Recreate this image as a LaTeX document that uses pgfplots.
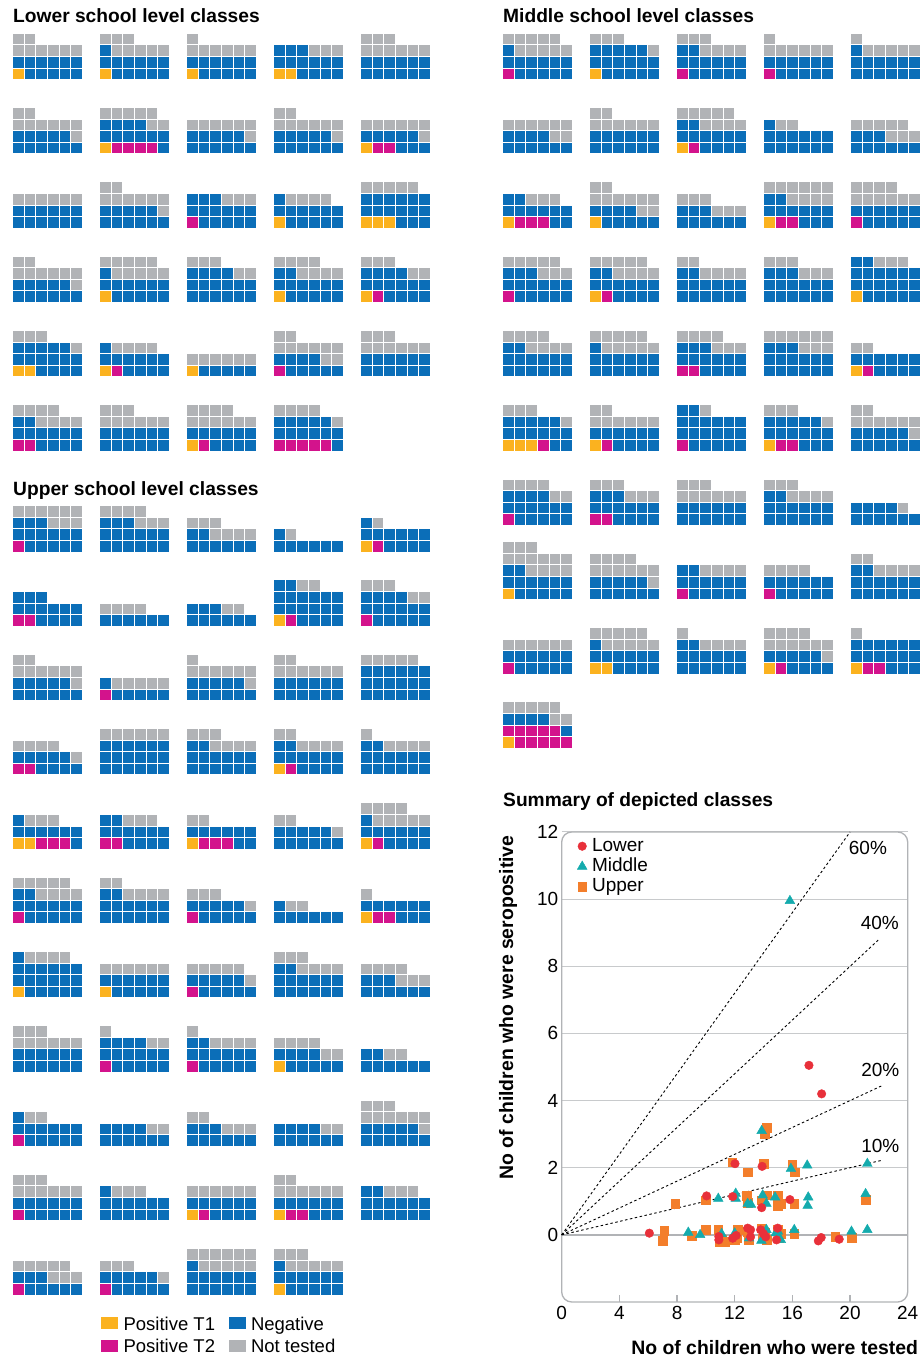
\documentclass[border=0pt]{standalone}
\usepackage{fontspec}
\setmainfont{Liberation Sans}
\usepackage{pgfplots}
\pgfplotsset{compat=1.18}
\definecolor{cTone}{HTML}{FBB21F}
\definecolor{cTtwo}{HTML}{D3138C}
\definecolor{cNeg}{HTML}{0B6EB8}
\definecolor{cNT}{HTML}{B1B3B6}
\definecolor{cLow}{HTML}{E8303A}
\definecolor{cMid}{HTML}{14ABAD}
\definecolor{cUp}{HTML}{F37E2B}
\newcount\kk
\newcount\jj
\def\LA{}\def\LB{}\def\LC{}\def\LD{}
\newcommand\addsq[3]{%
  \pgfmathtruncatemacro\wfc{mod(\the\kk,6)}%
  \pgfmathtruncatemacro\wfr{floor(\the\kk/6)}%
  \pgfmathsetmacro\wfx{#2+4.8+11.6*\wfc}%
  \pgfmathsetmacro\wfy{#3-4.8-11.6*\wfr}%
  \xdef#1{#1(\wfx,\wfy)}%
  \global\advance\kk by 1\relax}
\newcommand\addn[4]{%
  \jj=#4\relax
  \loop\ifnum\jj>0
    \addsq#1{#2}{#3}%
    \advance\jj by -1\relax
  \repeat}
% \waffle{left}{bottom}{positive T1}{positive T2}{negative}{not tested}
\newcommand\waffle[6]{\global\kk=0\relax
  \addn\LA{#1}{#2}{#3}\addn\LB{#1}{#2}{#4}\addn\LC{#1}{#2}{#5}\addn\LD{#1}{#2}{#6}}
% ---------------- Lower school level classes
\waffle{13.3}{78.3}{1}{0}{11}{8}
\waffle{100.3}{78.3}{1}{0}{12}{8}
\waffle{187.3}{78.3}{1}{0}{11}{7}
\waffle{274.3}{78.3}{2}{0}{13}{3}
\waffle{361.3}{78.3}{0}{0}{12}{9}
\waffle{13.3}{152.6}{0}{0}{11}{9}
\waffle{100.3}{152.6}{1}{4}{11}{7}
\waffle{187.3}{152.6}{0}{0}{11}{7}
\waffle{274.3}{152.6}{0}{0}{11}{9}
\waffle{361.3}{152.6}{1}{2}{8}{7}
\waffle{13.3}{226.9}{0}{0}{12}{6}
\waffle{100.3}{226.9}{0}{0}{11}{9}
\waffle{187.3}{226.9}{0}{1}{14}{3}
\waffle{274.3}{226.9}{1}{0}{12}{4}
\waffle{361.3}{226.9}{3}{0}{15}{5}
\waffle{13.3}{301.2}{0}{0}{11}{9}
\waffle{100.3}{301.2}{1}{0}{12}{10}
\waffle{187.3}{301.2}{0}{0}{16}{5}
\waffle{274.3}{301.2}{1}{0}{13}{8}
\waffle{361.3}{301.2}{1}{1}{14}{5}
\waffle{13.3}{375.5}{2}{0}{15}{4}
\waffle{100.3}{375.5}{1}{1}{11}{4}
\waffle{187.3}{375.5}{1}{0}{5}{6}
\waffle{274.3}{375.5}{0}{1}{9}{10}
\waffle{361.3}{375.5}{0}{0}{12}{9}
\waffle{13.3}{449.8}{0}{2}{12}{8}
\waffle{100.3}{449.8}{0}{0}{12}{9}
\waffle{187.3}{449.8}{1}{1}{10}{10}
\waffle{274.3}{449.8}{0}{5}{12}{5}
% ---------------- Upper school level classes
\waffle{13.3}{550.7}{0}{1}{14}{9}
\waffle{100.3}{550.7}{0}{0}{15}{7}
\waffle{187.3}{550.7}{0}{0}{8}{7}
\waffle{274.3}{550.7}{0}{0}{7}{1}
\waffle{361.3}{550.7}{1}{1}{11}{1}
\waffle{13.3}{625.0}{0}{2}{13}{0}
\waffle{100.3}{625.0}{0}{0}{6}{4}
\waffle{187.3}{625.0}{0}{0}{9}{2}
\waffle{274.3}{625.0}{1}{1}{18}{2}
\waffle{361.3}{625.0}{0}{1}{15}{5}
\waffle{13.3}{699.3}{0}{0}{11}{9}
\waffle{100.3}{699.3}{0}{1}{6}{5}
\waffle{187.3}{699.3}{0}{0}{11}{8}
\waffle{274.3}{699.3}{0}{0}{12}{8}
\waffle{361.3}{699.3}{0}{0}{18}{5}
\waffle{13.3}{773.6}{0}{2}{9}{5}
\waffle{100.3}{773.6}{0}{0}{18}{6}
\waffle{187.3}{773.6}{0}{0}{14}{7}
\waffle{274.3}{773.6}{1}{1}{12}{6}
\waffle{361.3}{773.6}{0}{0}{14}{5}
\waffle{13.3}{847.9}{2}{3}{8}{3}
\waffle{100.3}{847.9}{0}{2}{12}{3}
\waffle{187.3}{847.9}{1}{3}{8}{2}
\waffle{274.3}{847.9}{0}{0}{11}{3}
\waffle{361.3}{847.9}{1}{1}{11}{9}
\waffle{13.3}{922.2}{0}{1}{13}{9}
\waffle{100.3}{922.2}{0}{0}{14}{6}
\waffle{187.3}{922.2}{0}{1}{10}{4}
\waffle{274.3}{922.2}{0}{0}{7}{2}
\waffle{361.3}{922.2}{1}{2}{9}{1}
\waffle{13.3}{996.5}{1}{0}{18}{4}
\waffle{100.3}{996.5}{1}{0}{11}{6}
\waffle{187.3}{996.5}{0}{1}{10}{6}
\waffle{274.3}{996.5}{0}{0}{14}{7}
\waffle{361.3}{996.5}{0}{0}{9}{7}
\waffle{13.3}{1070.8}{0}{0}{12}{9}
\waffle{100.3}{1070.8}{0}{1}{15}{3}
\waffle{187.3}{1070.8}{0}{1}{13}{5}
\waffle{274.3}{1070.8}{1}{0}{9}{6}
\waffle{361.3}{1070.8}{0}{0}{8}{2}
\waffle{13.3}{1145.1}{0}{1}{12}{2}
\waffle{100.3}{1145.1}{0}{0}{10}{2}
\waffle{187.3}{1145.1}{0}{0}{9}{5}
\waffle{274.3}{1145.1}{0}{0}{10}{2}
\waffle{361.3}{1145.1}{0}{0}{11}{10}
\waffle{13.3}{1219.4}{0}{1}{11}{9}
\waffle{100.3}{1219.4}{0}{0}{13}{3}
\waffle{187.3}{1219.4}{1}{1}{10}{6}
\waffle{274.3}{1219.4}{1}{2}{9}{8}
\waffle{361.3}{1219.4}{0}{0}{14}{3}
\waffle{13.3}{1293.7}{0}{1}{8}{8}
\waffle{100.3}{1293.7}{0}{1}{10}{4}
\waffle{187.3}{1293.7}{0}{0}{13}{11}
\waffle{274.3}{1293.7}{1}{0}{12}{8}
% ---------------- Middle school level classes
\waffle{503.3}{78.3}{0}{1}{12}{10}
\waffle{590.3}{78.3}{1}{0}{16}{4}
\waffle{677.3}{78.3}{0}{1}{13}{7}
\waffle{764.3}{78.3}{0}{1}{11}{7}
\waffle{851.3}{78.3}{0}{0}{13}{6}
\waffle{503.3}{152.6}{0}{0}{10}{8}
\waffle{590.3}{152.6}{0}{0}{12}{8}
\waffle{677.3}{152.6}{1}{1}{12}{9}
\waffle{764.3}{152.6}{0}{0}{13}{2}
\waffle{851.3}{152.6}{0}{0}{9}{8}
\waffle{503.3}{226.9}{1}{3}{10}{3}
\waffle{590.3}{226.9}{1}{0}{9}{10}
\waffle{677.3}{226.9}{0}{0}{9}{6}
\waffle{764.3}{226.9}{1}{2}{11}{10}
\waffle{851.3}{226.9}{0}{1}{11}{10}
\waffle{503.3}{301.2}{0}{1}{14}{8}
\waffle{590.3}{301.2}{1}{1}{12}{9}
\waffle{677.3}{301.2}{0}{0}{14}{6}
\waffle{764.3}{301.2}{0}{0}{15}{6}
\waffle{851.3}{301.2}{1}{0}{19}{3}
\waffle{503.3}{375.5}{0}{0}{14}{8}
\waffle{590.3}{375.5}{0}{0}{13}{10}
\waffle{677.3}{375.5}{0}{2}{13}{7}
\waffle{764.3}{375.5}{0}{0}{15}{9}
\waffle{851.3}{375.5}{1}{1}{10}{2}
\waffle{503.3}{449.8}{3}{1}{13}{4}
\waffle{590.3}{449.8}{1}{1}{10}{8}
\waffle{677.3}{449.8}{0}{1}{19}{1}
\waffle{764.3}{449.8}{1}{2}{14}{4}
\waffle{851.3}{449.8}{0}{0}{11}{9}
\waffle{503.3}{524.1}{0}{1}{15}{6}
\waffle{590.3}{524.1}{0}{2}{13}{6}
\waffle{677.3}{524.1}{0}{0}{12}{9}
\waffle{764.3}{524.1}{0}{0}{14}{7}
\waffle{851.3}{524.1}{0}{0}{10}{1}
\waffle{503.3}{598.4}{1}{0}{13}{13}
\waffle{590.3}{598.4}{0}{0}{11}{11}
\waffle{677.3}{598.4}{0}{1}{13}{4}
\waffle{764.3}{598.4}{0}{1}{11}{4}
\waffle{851.3}{598.4}{0}{0}{14}{6}
\waffle{503.3}{672.7}{0}{1}{11}{6}
\waffle{590.3}{672.7}{2}{0}{11}{10}
\waffle{677.3}{672.7}{0}{0}{14}{5}
\waffle{764.3}{672.7}{1}{1}{9}{11}
\waffle{851.3}{672.7}{1}{2}{15}{1}
\waffle{503.3}{747.0}{1}{10}{5}{7}
\begin{document}
\begin{tikzpicture}
\path[use as bounding box] (0,0) rectangle (923pt,1358pt);
\begin{axis}[at={(0pt,0pt)}, anchor=south west, scale only axis,
  width=923pt, height=1358pt, xmin=0, xmax=923, ymin=0, ymax=1358,
  y dir=reverse, hide axis, clip=false,
  legend columns=2,
  legend style={draw=none, fill=none, at={(axis cs:98,1313)}, anchor=north west,
    font=\fontsize{18.5}{22}\selectfont, row sep=2pt,
    nodes={inner sep=1pt, anchor=west, text height=14pt, text depth=4.5pt}},
  legend cell align=left]
\edef\tmp{\noexpand\addplot[only marks, mark=square*, mark size=4.8pt, color=cTone, mark options={draw=none, fill=cTone},
  legend image code/.code={\noexpand\fill[cTone] (0pt,-2.8pt) rectangle (16pt,8.2pt);}] coordinates {\LA};}\tmp
\addlegendentry{\makebox[109pt][l]{\hspace{5pt}Positive T1}}
\edef\tmp{\noexpand\addplot[only marks, mark=square*, mark size=4.8pt, color=cNeg, mark options={draw=none, fill=cNeg},
  legend image code/.code={\noexpand\fill[cNeg] (0pt,-2.8pt) rectangle (16pt,8.2pt);}] coordinates {\LC};}\tmp
\addlegendentry{\hspace{5pt}Negative}
\edef\tmp{\noexpand\addplot[only marks, mark=square*, mark size=4.8pt, color=cTtwo, mark options={draw=none, fill=cTtwo},
  legend image code/.code={\noexpand\fill[cTtwo] (0pt,-2.8pt) rectangle (16pt,8.2pt);}] coordinates {\LB};}\tmp
\addlegendentry{\makebox[109pt][l]{\hspace{5pt}Positive T2}}
\edef\tmp{\noexpand\addplot[only marks, mark=square*, mark size=4.8pt, color=cNT, mark options={draw=none, fill=cNT},
  legend image code/.code={\noexpand\fill[cNT] (0pt,-2.8pt) rectangle (16pt,8.2pt);}] coordinates {\LD};}\tmp
\addlegendentry{\hspace{5pt}Not tested}
\node[anchor=base west, font=\bfseries\fontsize{19.2}{22}\selectfont, inner sep=0pt] at (axis cs:13,22.3) {Lower school level classes};
\node[anchor=base west, font=\bfseries\fontsize{19.2}{22}\selectfont, inner sep=0pt] at (axis cs:503,22.3) {Middle school level classes};
\node[anchor=base west, font=\bfseries\fontsize{19.2}{22}\selectfont, inner sep=0pt] at (axis cs:13,495) {Upper school level classes};
\node[anchor=base west, font=\bfseries\fontsize{19.2}{22}\selectfont, inner sep=0pt] at (axis cs:503,806) {Summary of depicted classes};
\end{axis}
\begin{axis}[at={(561.7pt,56pt)}, anchor=south west, scale only axis,
  width=346pt, height=470pt, xmin=0, xmax=24, ymin=-2, ymax=12, clip=false,
  xtick={4,8,...,20}, extra x ticks={0,24}, extra x tick style={major tick length=0pt},
  ytick={2,4,...,12}, extra y ticks={0},
  ymajorgrids, grid style={color=cNT!70, line width=1pt},
  extra y tick style={grid style={color=cNT, line width=1.3pt}},
  axis line style={draw=none},
  xtick style={color=cNT, line width=1.3pt}, ytick style={draw=none},
  major tick length=7pt, tick align=inside, xtick pos=bottom, ytick pos=left,
  /pgf/number format/assume math mode=true,
  ticklabel style={font=\fontsize{19}{22}\selectfont},
  xticklabel style={yshift=-1pt},
  xlabel={No of children who were tested},
  ylabel={No of children who were seropositive},
  label style={font=\bfseries\fontsize{19.4}{22}\selectfont},
  xlabel style={at={(axis description cs:1.04,-0.098)}, anchor=east},
  ylabel style={at={(axis description cs:-0.155,1)}, anchor=east},
  legend style={draw=none, fill=none, at={(axis description cs:0.036,0.996)}, anchor=north west,
    font=\fontsize{19}{22}\selectfont, row sep=0pt,
    nodes={inner sep=1pt, text height=14pt, text depth=4.3pt}},
  legend cell align=left, reverse legend]
\draw[color=cNT, line width=1.3pt, rounded corners=10pt] (rel axis cs:0,0) rectangle (rel axis cs:1,1);
\addplot[forget plot, black, line width=0.9pt, dash pattern=on 2.5pt off 2.5pt] coordinates {(0,0) (20,12)};
\addplot[forget plot, black, line width=0.9pt, dash pattern=on 2.5pt off 2.5pt] coordinates {(0,0) (22,8.8)};
\addplot[forget plot, black, line width=0.9pt, dash pattern=on 2.5pt off 2.5pt] coordinates {(0,0) (22.2,4.44)};
\addplot[forget plot, black, line width=0.9pt, dash pattern=on 2.5pt off 2.5pt] coordinates {(0,0) (22.2,2.22)};
\node[font=\fontsize{19}{22}\selectfont] at (axis cs:21.24,11.52) {60\%};
\node[font=\fontsize{19}{22}\selectfont] at (axis cs:22.07,9.3) {40\%};
\node[font=\fontsize{19}{22}\selectfont] at (axis cs:22.1,4.9) {20\%};
\node[font=\fontsize{19}{22}\selectfont] at (axis cs:22.1,2.66) {10\%};
% Upper
\addplot[only marks, mark=square*, mark size=4.3pt, color=cUp, mark options={draw=none, fill=cUp}] coordinates {
(14.2,3.2) (14.1,3.0) (11.83,2.16) (12.9,1.87) (14.0,2.12) (16.0,2.09) (16.18,1.87)
(7.86,0.93) (9.98,1.03) (12.85,1.16) (12.9,0.96) (14.2,1.18) (13.85,1.03) (14.98,1.16)
(14.98,0.87) (15.2,0.93) (16.13,0.93) (21.08,1.05)
(7.12,0.13) (7.0,-0.18) (9.0,-0.02) (9.98,0.15) (10.86,0.15) (11.1,-0.15) (11.3,-0.2)
(12.0,-0.15) (12.2,0.15) (12.15,-0.1) (12.97,-0.15) (13.85,0.2) (14.2,-0.15) (14.98,0.15)
(15.2,0.03) (16.13,0.03) (18.97,-0.05) (20.1,-0.08)
(10.95,-0.2) (12.9,0.1) (13.9,-0.1) (15.1,-0.1) (14.1,0.08)};
\addlegendentry{\hspace{4pt}Upper}
% Middle
\addplot[only marks, mark=triangle*, mark size=5.6pt, color=cMid, mark options={draw=none, fill=cMid}] coordinates {
(15.83,9.95) (13.87,3.1) (15.9,1.97) (17.03,2.07) (21.2,2.12) (10.86,1.08) (12.07,1.23)
(12.07,1.08) (12.9,0.93) (13.13,0.9) (13.94,1.18) (14.2,0.93) (14.8,1.12) (17.1,1.12)
(17.06,0.87) (21.08,1.22)
(8.78,0.07) (9.6,0.0) (11.09,0.03) (14.2,0.15) (13.85,-0.17) (14.85,0.05) (15.2,-0.15)
(16.13,0.15) (20.1,0.1) (21.2,0.15)
(12.0,0.05) (13.0,-0.1) (15.0,0.1)};
\addlegendentry{\hspace{4pt}Middle}
% Lower
\addplot[only marks, mark=*, mark size=4.3pt, color=cLow, mark options={draw=none, fill=cLow}] coordinates {
(17.15,5.05) (18.03,4.2) (12.02,2.12) (13.9,2.04) (10.05,1.16) (11.86,1.14) (13.87,0.81)
(15.83,1.05)
(6.08,0.05) (10.9,-0.05) (10.9,-0.15) (11.86,-0.1) (12.1,-0.02) (12.9,0.2) (13.1,0.15)
(13.1,-0.06) (13.8,0.15) (14.0,0.03) (14.15,-0.06) (14.98,0.2) (14.9,-0.15) (17.8,-0.18)
(18.0,-0.08) (19.25,-0.13)};
\addlegendentry{\hspace{4pt}Lower}
\end{axis}
\end{tikzpicture}
\end{document}
